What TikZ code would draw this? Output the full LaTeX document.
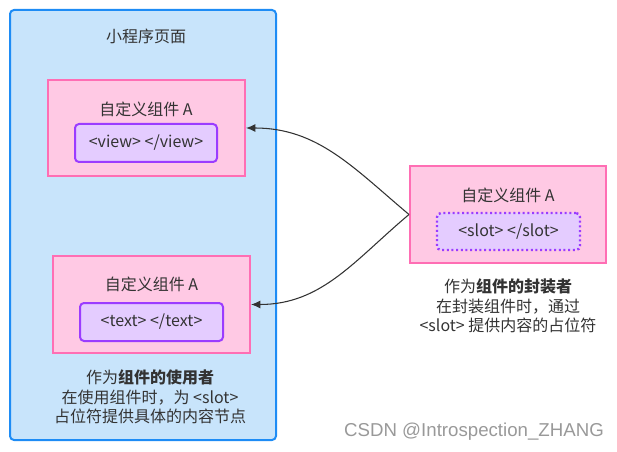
\documentclass[tikz,border=0pt]{standalone}
\usepackage{fontspec}
\setmainfont{Noto Sans CJK SC}
\newfontfamily\markfont{Liberation Sans}
\usetikzlibrary{arrows.meta, positioning}
\definecolor{pagefill}{HTML}{C8E4FB}
\definecolor{pageline}{HTML}{1E8CF5}
\definecolor{compfill}{HTML}{FFC9E4}
\definecolor{compline}{HTML}{FF6EB4}
\definecolor{tagfill}{HTML}{E4CCFF}
\definecolor{tagline}{HTML}{9B3CFF}
\definecolor{inkgray}{HTML}{333333}
\tikzset{
  pagebox/.style={draw=pageline,fill=pagefill,line width=1.5pt,rounded corners=3pt,minimum width=199.5pt,minimum height=322.5pt,inner sep=0pt},
  compbox/.style={draw=compline,fill=compfill,line width=1.5pt,minimum width=147.75pt,minimum height=72pt,inner sep=0pt},
  tagbox/.style={draw=tagline,fill=tagfill,line width=1.5pt,rounded corners=3pt,minimum width=106.5pt,minimum height=28.5pt,inner sep=0pt,text=inkgray},
  slotbox/.style={tagbox,dotted,line width=1.8pt},
  caption/.style={text=inkgray},
  notetext/.style={text=inkgray,align=center,font=\fontsize{12}{14.5}\selectfont},
  linkedge/.style={-{Latex[length=7pt,width=6pt]},inkgray,line width=0.8pt},
}

\begin{document}
\begin{tikzpicture}[x=0.75pt,y=-0.75pt,font=\fontsize{12}{14}\selectfont]
  \useasboundingbox (0,0) rectangle (617,452);
  % page holding the two users
  \node[pagebox] (page) at (143,225) {};
  \node[caption] (pagetitle) at (146,36) {小程序页面};
  \node[compbox] (viewcomp) at (146.5,128) {};
  \node[caption] (viewtitle) at (146,109) {自定义组件 A};
  \node[tagbox] (viewtag) at (146,143) {<view> </view>};
  \node[compbox] (textcomp) at (151.5,304.5) {};
  \node[caption] (texttitle) at (151.5,284) {自定义组件 A};
  \node[tagbox,minimum width=107.25pt] (texttag) at (151.5,322) {<text> </text>};
  \node[notetext] (usernote) at (150,397) {作为\textbf{组件的使用者}\\在使用组件时，为 <slot>\\占位符提供具体的内容节点};
  % the wrapping component
  \node[compbox,minimum width=147pt,minimum height=72.75pt] (slotcomp) at (508,214.5) {};
  \node[caption] (slottitle) at (508,195) {自定义组件 A};
  \node[slotbox,minimum width=107.25pt,minimum height=27.75pt] (slottag) at (508.5,231.5) {<slot> </slot>};
  \node[notetext] (wrapnote) at (508,306) {作为\textbf{组件的封装者}\\在封装组件时，通过\\<slot> 提供内容的占位符};
  \draw[linkedge] (slotcomp.west) to[out=140,in=0] (viewcomp.east);
  \draw[linkedge] (slotcomp.west) to[out=-140,in=0] (textcomp.east);
  \node[text=black!40,font=\markfont\fontsize{14}{16}\selectfont] (mark) at (474,432) {CSDN @Introspection\_ZHANG};
\end{tikzpicture}
\end{document}
